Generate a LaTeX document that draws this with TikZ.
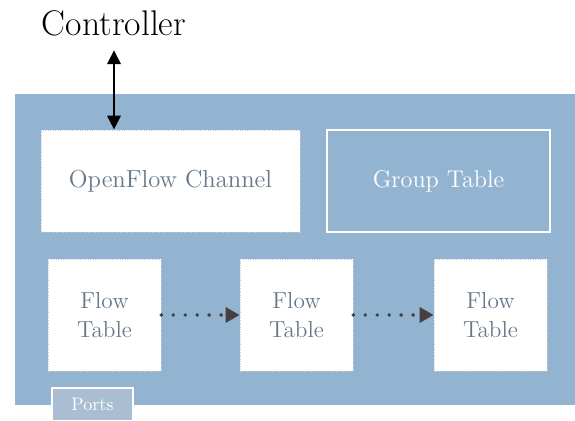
\documentclass[tikz,border=0pt]{standalone}
\usepackage{tikz}
\usetikzlibrary{arrows.meta}

\definecolor{switchblue}{HTML}{93B4D1}
\definecolor{portblue}{HTML}{A9BED3}
\definecolor{tabletext}{HTML}{66788C}
\definecolor{pipeline}{HTML}{463F3F}
\definecolor{boxedge}{HTML}{C4CCD6}

\tikzset{
	whitebox/.style={draw=boxedge, densely dotted, fill=white, text=tabletext, align=center, inner sep=0pt},
	flowtable/.style={whitebox, minimum width=2.26cm, minimum height=2.24cm, font=\fontsize{13.2}{16.2}\selectfont},
	pipe/.style={pipeline, line width=2.2pt, line cap=round, dash pattern=on 0pt off 6.8pt, -{Triangle[length=8pt, width=8.5pt]}}
}

\begin{document}
\begin{tikzpicture}[x=0.02cm, y=0.02cm]
		\useasboundingbox (0, 0) rectangle (575, 421);
		
		% Switch
		\node [fill=switchblue, minimum width=11.2cm, minimum height=6.22cm, inner sep=0pt] (switch) at (295, 171.5) {};
		
		% Ports
		\node [fill=portblue, draw=white, line width=0.8pt, minimum width=1.62cm, minimum height=0.66cm, inner sep=0pt, text=white, font=\fontsize{10.3}{12}\selectfont] (ports) at (92.5, 16.5) {Ports};
		
		% OpenFlow Channel
		\node [whitebox, minimum width=5.18cm, minimum height=2.04cm, font=\fontsize{14}{16}\selectfont] (chan) at (170.5, 240) {OpenFlow Channel};
		
		% Group Table
		\node [draw=white, line width=1pt, minimum width=4.46cm, minimum height=2.04cm, inner sep=0pt, text=white, font=\fontsize{13.8}{16}\selectfont] (group) at (438.5, 240) {Group Table};
		
		% Flow Tables
		\node [flowtable] (flow1) at (104.5, 106) {Flow\\Table};
		\node [flowtable] (flow2) at (296.5, 106) {Flow\\Table};
		\node [flowtable] (flow3) at (490.5, 106) {Flow\\Table};
		
		% Pipeline
		\draw [pipe] (flow1.east) -- (flow2.west);
		\draw [pipe] (flow2.east) -- (flow3.west);
		
		% Controller
		\node [font=\fontsize{20.3}{24}\selectfont, inner sep=0pt] (ctrl) at (114, 398) {Controller};
		\draw [line width=1.7pt, {Triangle[length=8pt, width=7.5pt]}-{Triangle[length=8pt, width=7.5pt]}] ([yshift=-8pt]ctrl.south) -- (ctrl.south |- chan.north);
		
	\end{tikzpicture}
\end{document}
